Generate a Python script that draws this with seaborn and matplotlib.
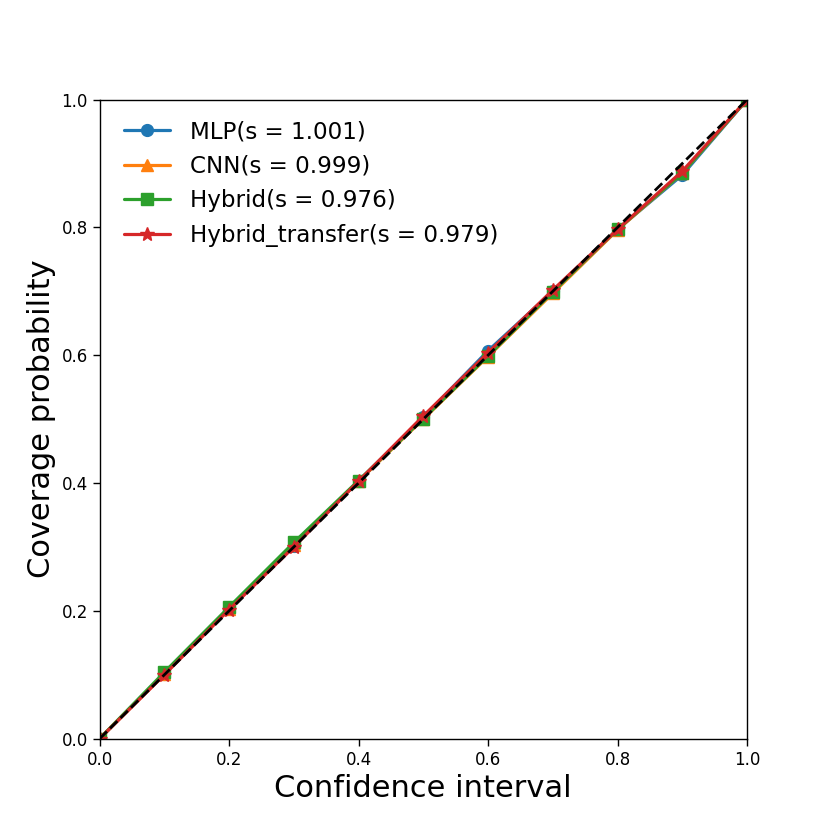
import matplotlib
matplotlib.use('Agg')
import matplotlib.pyplot as plt
import seaborn as sns

confidence = [0.0, 0.1, 0.2, 0.3, 0.4, 0.5, 0.6, 0.7, 0.8, 0.9, 1.0]

mlp = [0.0, 0.102, 0.204, 0.301, 0.403, 0.503, 0.607, 0.700, 0.797, 0.882, 1.0]
cnn = [0.0, 0.101, 0.203, 0.303, 0.403, 0.500, 0.598, 0.697, 0.796, 0.885, 1.0]
hybrid = [0.0, 0.104, 0.206, 0.307, 0.404, 0.501, 0.599, 0.699, 0.797, 0.885, 1.0]
hybrid_transfer = [0.0, 0.100, 0.202, 0.300, 0.403, 0.505, 0.604, 0.702, 0.797, 0.888, 1.0]

labels = ['MLP(s = 1.001)', 'CNN(s = 0.999)', 'Hybrid(s = 0.976)', 'Hybrid_transfer(s = 0.979)']
series = [mlp, cnn, hybrid, hybrid_transfer]
markers = ['o', '^', 's', '*']
marker_sizes = [8.5, 8.5, 8.5, 10]
colors = ['#1f77b4', '#ff7f0e', '#2ca02c', '#d62728']

sns.set_style('ticks')
plt.rcParams['font.family'] = ['DejaVu Sans']
plt.rcParams['axes.edgecolor'] = 'black'
plt.rcParams['axes.labelcolor'] = 'black'
plt.rcParams['text.color'] = 'black'
plt.rcParams['xtick.color'] = 'black'
plt.rcParams['ytick.color'] = 'black'

fig, ax = plt.subplots(figsize=(8.3, 8.3), dpi=100)
fig.subplots_adjust(left=0.12, right=0.9, bottom=0.11, top=0.88)

for vals, lab, m, ms, c in zip(series, labels, markers, marker_sizes, colors):
    sns.lineplot(x=confidence, y=vals, marker=m, color=c, label=lab, ax=ax,
                 linewidth=2.3, markersize=ms, markeredgewidth=1, markeredgecolor=c)

# ideal calibration line
sns.lineplot(x=[0, 1], y=[0, 1], color='black', linestyle='--', linewidth=2, ax=ax)

ax.set_xlim(0, 1)
ax.set_ylim(0, 1)
ax.set_xticks([0.0, 0.2, 0.4, 0.6, 0.8, 1.0])
ax.set_yticks([0.0, 0.2, 0.4, 0.6, 0.8, 1.0])
ax.tick_params(labelsize=12, length=5, width=1)
ax.set_xlabel('Confidence interval', fontsize=22)
ax.set_ylabel('Coverage probability', fontsize=22)
for sp in ax.spines.values():
    sp.set_linewidth(1)

ax.legend(loc='upper left', bbox_to_anchor=(0.005, 1.0), frameon=False,
          fontsize=16.6, handletextpad=0.9)

fig.savefig('out.png', dpi=100)
